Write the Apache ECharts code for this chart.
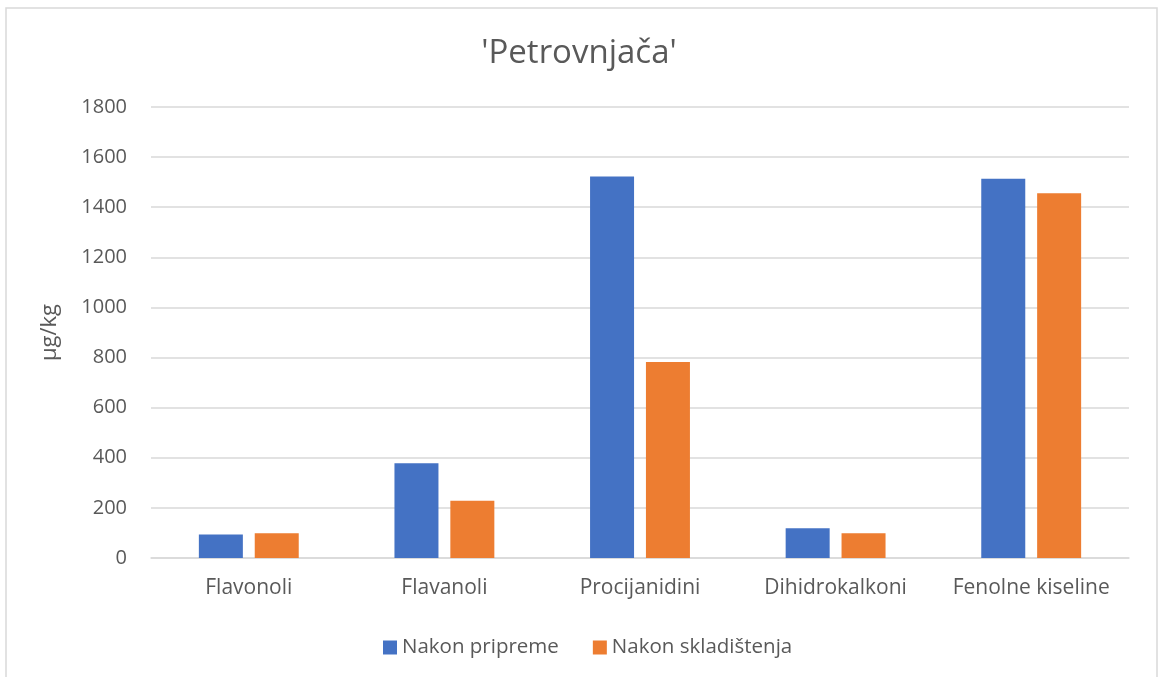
<!DOCTYPE html>
<html>
<head>
<meta charset="utf-8">
<script src="https://cdn.jsdelivr.net/npm/echarts@6/dist/echarts.min.js"></script>
<style>
  html, body { margin: 0; padding: 0; background: #fff; }
  #chart { width: 1158px; height: 677px; }
</style>
</head>
<body>
<div id="chart"></div>
<script>
// Phenolic groups measured in the 'Petrovnjača' variety (µg/kg)
const categories = ['Flavonoli', 'Flavanoli', 'Procijanidini', 'Dihidrokalkoni', 'Fenolne kiseline'];
const seriesNames = ['Nakon pripreme', 'Nakon skladištenja'];
const afterPreparation = [94, 378, 1523, 119, 1514];
const afterStorage = [99, 228, 782, 99, 1456];
const yTicks = { min: 0, max: 1800, interval: 200 };

const textColor = '#595959';
const gridColor = '#d9d9d9';
const font = 'Open Sans';

const chart = echarts.init(document.getElementById('chart'), null, { renderer: 'canvas' });

chart.setOption({
  animation: false,
  backgroundColor: '#ffffff',
  color: ['#4472C4', '#ED7D31'],
  textStyle: { fontFamily: font, color: textColor },
  title: {
    text: "'Petrovnjača'",
    left: 'center',
    top: 32,
    textStyle: { fontFamily: font, fontSize: 33, fontWeight: 'normal', color: textColor }
  },
  graphic: [{
    type: 'rect',
    shape: { x: 6, y: 8, width: 1151, height: 720 },
    style: { fill: null, stroke: gridColor, lineWidth: 1.5 },
    silent: true
  }],
  legend: {
    data: seriesNames,
    left: 378,
    top: 632,
    itemWidth: 14,
    itemHeight: 14,
    itemGap: 34,
    icon: 'rect',
    textStyle: { fontFamily: font, fontSize: 20.5, color: textColor }
  },
  grid: { left: 151, right: 29, top: 107, bottom: 119, containLabel: false },
  xAxis: {
    type: 'category',
    data: categories,
    axisTick: { show: false },
    axisLine: { lineStyle: { color: gridColor, width: 1.5 } },
    axisLabel: { interval: 0, fontFamily: font, fontSize: 21, color: textColor, margin: 20 }
  },
  yAxis: {
    type: 'value',
    min: yTicks.min,
    max: yTicks.max,
    interval: yTicks.interval,
    name: 'µg/kg',
    nameLocation: 'middle',
    nameGap: 90,
    nameRotate: 90,
    nameTextStyle: { fontFamily: font, fontSize: 22, color: textColor },
    axisLine: { show: false },
    axisTick: { show: false },
    axisLabel: { fontFamily: font, fontSize: 20, color: textColor, margin: 24, formatter: v => String(v) },
    splitLine: { lineStyle: { color: gridColor, width: 1.5 } }
  },
  series: [
    { name: seriesNames[0], type: 'bar', data: afterPreparation, barWidth: 44, barGap: '27%' },
    { name: seriesNames[1], type: 'bar', data: afterStorage, barWidth: 44, barGap: '27%' }
  ]
});
</script>
</body>
</html>
